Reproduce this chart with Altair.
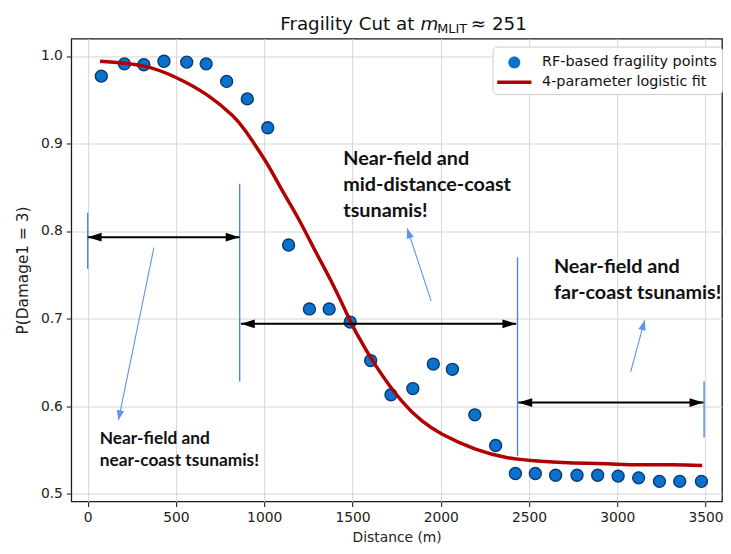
import math
import altair as alt
import pandas as pd

P_LABEL = "RF-based fragility points"
F_LABEL = "4-parameter logistic fit"

# scatter points
pts_x = [77, 208, 318, 432, 561, 671, 787, 904, 1020, 1138, 1256, 1368, 1487, 1603, 1718,
         1842, 1958, 2066, 2193, 2311, 2423, 2536, 2651, 2772, 2889, 3005, 3121, 3239, 3354, 3477]
pts_y = [0.977, 0.991, 0.990, 0.994, 0.993, 0.991, 0.971, 0.951, 0.918, 0.784, 0.711, 0.711,
         0.696, 0.652, 0.613, 0.620, 0.648, 0.642, 0.590, 0.555, 0.523, 0.523, 0.521, 0.521,
         0.521, 0.520, 0.518, 0.514, 0.514, 0.514]

# fitted curve
fit_x = [70, 306, 494, 680, 820, 895, 1007, 1100, 1194, 1287, 1381, 1474, 1521, 1633, 1782,
         1894, 2006, 2193, 2379, 2566, 2753, 2940, 3127, 3313, 3481]
fit_y = [0.994, 0.989, 0.976, 0.955, 0.932, 0.914, 0.880, 0.847, 0.814, 0.778, 0.742, 0.703,
         0.684, 0.646, 0.605, 0.583, 0.568, 0.551, 0.541, 0.537, 0.535, 0.534, 0.533, 0.533,
         0.532]

# blue boundary lines
bound_x = [0, 861, 2435, 3492]
bound_lo = [0.757, 0.628, 0.543, 0.564]
bound_hi = [0.821, 0.854, 0.770, 0.628]

# black double arrows
span_start = [0, 868, 2440]
span_end = [860, 2428, 3488]
span_y = [0.793, 0.694, 0.604]

# thin blue pointer arrows (tail -> head)
ptr_x0 = [375, 1946, 3076]
ptr_y0 = [0.781, 0.720, 0.639]
ptr_x1 = [174, 1810, 3155]
ptr_y1 = [0.584, 0.803, 0.698]

# annotation texts
big_text = ["Near-field and\nmid-distance-coast\ntsunamis!", "Near-field and\nfar-coast tsunamis!"]
big_x = [1448, 2641]
big_y = [0.875, 0.752]
small_text = ["Near-field and\nnear-coast tsunamis!"]
small_x = [68]
small_y = [0.557]

title_parts = ["Fragility Cut at", "m", "MLIT", "\u2248 251"]

x_ticks = [0, 500, 1000, 1500, 2000, 2500, 3000, 3500]
y_ticks = [0.5, 0.6, 0.7, 0.8, 0.9, 1.0]

# ---- layout / style ----
W, H = 658, 468
XMIN, XMAX = -93.0, 3593.5
YMIN, YMAX = 0.491, 1.0198
BLUE = "#0a72cc"
NAVY = "#0b3a70"
RED = "#b00000"
VBLUE = "#4a86e8"
PBLUE = "#5b93ee"
FONT = "DejaVu Sans"
SYM_SIZE = 484  # 22 px symbol box, 11 px per path unit
CIRCLE_SHAPE = "M0.55,0A0.55,0.55,0,1,1,-0.55,0A0.55,0.55,0,1,1,0.55,0Z"
BAR_SHAPE = "M-1.57,-0.16H1.57V0.16H-1.57Z"


def to_px(x, y):
    return ((x - XMIN) / (XMAX - XMIN) * W, (YMAX - y) / (YMAX - YMIN) * H)


ptr_ang = []
for a, b, c, d in zip(ptr_x0, ptr_y0, ptr_x1, ptr_y1):
    p0 = to_px(a, b)
    p1 = to_px(c, d)
    ptr_ang.append((math.degrees(math.atan2(p1[0] - p0[0], -(p1[1] - p0[1]))) + 360) % 360)

df_pts = pd.DataFrame({"x": pts_x, "y": pts_y, "series": P_LABEL})
df_fit = pd.DataFrame({"x": fit_x, "y": fit_y})
df_bound = pd.DataFrame({"x": bound_x, "lo": bound_lo, "hi": bound_hi})
df_span = pd.DataFrame({"x0": span_start, "x1": span_end, "y": span_y})
df_ptr = pd.DataFrame({"x0": ptr_x0, "y0": ptr_y0, "x1": ptr_x1, "y1": ptr_y1, "ang": ptr_ang})
df_big = pd.DataFrame({"x": big_x, "y": big_y, "t": big_text})
df_small = pd.DataFrame({"x": small_x, "y": small_y, "t": small_text})

xs = alt.Scale(domain=[XMIN, XMAX], nice=False, zero=False)
ys = alt.Scale(domain=[YMIN, YMAX], nice=False, zero=False)

xaxis = alt.Axis(values=x_ticks, format="d", title="Distance (m)", grid=True,
                 tickSize=5, labelPadding=4, titlePadding=6, domain=False)
yaxis = alt.Axis(values=y_ticks, format=".1f", title="P(Damage1 = 3)", grid=True,
                 tickSize=5, labelPadding=4, titlePadding=10, domain=False,
                 titleFontSize=15.5)


def X(f="x"):
    return alt.X(f, type="quantitative", scale=xs, axis=xaxis)


def Y(f="y"):
    return alt.Y(f, type="quantitative", scale=ys, axis=yaxis)


leg = dict(
    title=None, orient="none", legendX=426, legendY=8,
    labelFont=FONT, labelFontSize=14.5, labelColor="#111", labelLimit=400,
    symbolSize=SYM_SIZE, symbolOffset=6, padding=5, labelOffset=17, rowPadding=2,
    strokeColor="#cccccc", fillColor="white", cornerRadius=4, symbolOpacity=1,
    symbolStrokeWidth=0,
)
DOM = [P_LABEL, F_LABEL]

points = alt.Chart(df_pts).mark_point(
    filled=True, opacity=1, stroke=NAVY, strokeWidth=1.4, size=SYM_SIZE
).encode(
    x=X(), y=Y(),
    color=alt.Color("series:N", scale=alt.Scale(domain=DOM, range=[BLUE, RED]),
                    legend=alt.Legend(**leg)),
    shape=alt.Shape("series:N", scale=alt.Scale(domain=DOM, range=[CIRCLE_SHAPE, BAR_SHAPE]),
                    legend=alt.Legend(**leg)),
)

fit = alt.Chart(df_fit).mark_line(color=RED, strokeWidth=3.5, interpolate="natural").encode(
    x=X(), y=Y()
)

bounds = alt.Chart(df_bound).mark_rule(color=VBLUE, strokeWidth=1.4).encode(
    x=X(), y=Y("lo"), y2="hi"
)

span_line = alt.Chart(df_span).mark_rule(color="black", strokeWidth=2).encode(
    x=X("x0"), x2="x1", y=Y()
)
LEFT_HEAD = "M0,0L1,-0.32L1,0.32Z"
RIGHT_HEAD = "M0,0L-1,-0.32L-1,0.32Z"
span_l = alt.Chart(df_span).mark_point(shape=LEFT_HEAD, filled=True, size=784, color="black",
                                       opacity=1, strokeWidth=0).encode(x=X("x0"), y=Y())
span_r = alt.Chart(df_span).mark_point(shape=RIGHT_HEAD, filled=True, size=784, color="black",
                                       opacity=1, strokeWidth=0).encode(x=X("x1"), y=Y())

ptr_line = alt.Chart(df_ptr).mark_rule(color=PBLUE, strokeWidth=1.1).encode(
    x=X("x0"), y=Y("y0"), x2="x1", y2="y1"
)
UP_HEAD = "M0,0L-0.38,1L0.38,1Z"
ptr_head = alt.Chart(df_ptr).mark_point(shape=UP_HEAD, filled=True, size=400, color=PBLUE,
                                        opacity=1, strokeWidth=0).encode(
    x=X("x1"), y=Y("y1"), angle=alt.Angle("ang:Q", scale=None)
)

big_notes = alt.Chart(df_big).mark_text(
    align="left", baseline="alphabetic", font="Lato", fontWeight="bold", fontSize=20,
    lineHeight=26, lineBreak="\n", color="#111"
).encode(x=X(), y=Y(), text="t:N")

small_notes = alt.Chart(df_small).mark_text(
    align="left", baseline="alphabetic", font="Lato", fontWeight="bold", fontSize=17.5,
    lineHeight=22.5, lineBreak="\n", color="#111"
).encode(x=X(), y=Y(), text="t:N")


def title_piece(txt, xpos, ypos, size, align="left", style="normal"):
    return alt.Chart(pd.DataFrame({"t": [txt]})).mark_text(
        align=align, baseline="alphabetic", font=FONT, fontSize=size, fontStyle=style,
        color="#111"
    ).encode(text="t:N", x=alt.value(xpos), y=alt.value(ypos))


t1 = title_piece(title_parts[0], 347, -8.7, 18.5, align="right")
t2 = title_piece(title_parts[1], 353, -8.7, 18.5, style="italic")
t3 = title_piece(title_parts[2], 370, -5.5, 13)
t4 = title_piece(title_parts[3], 404, -8.7, 18.5)

chart = alt.layer(
    points, fit, bounds, span_line, span_l, span_r, ptr_line, ptr_head,
    big_notes, small_notes, t1, t2, t3, t4
).properties(
    width=W, height=H,
    autosize=alt.AutoSizeParams(type="none"),
    padding={"left": 64, "top": 28, "right": 1, "bottom": 42},
).configure_view(
    stroke="#1a1a1a", strokeWidth=1.3
).configure_axis(
    labelFont=FONT, labelFontSize=14, labelColor="#222",
    titleFont=FONT, titleFontSize=14, titleFontWeight="normal", titleColor="#222",
    gridColor="#d4d4d4", gridWidth=1, tickColor="#222", tickWidth=1.1,
)

chart.save("out.html", embed_options={"renderer": "svg", "actions": False})
